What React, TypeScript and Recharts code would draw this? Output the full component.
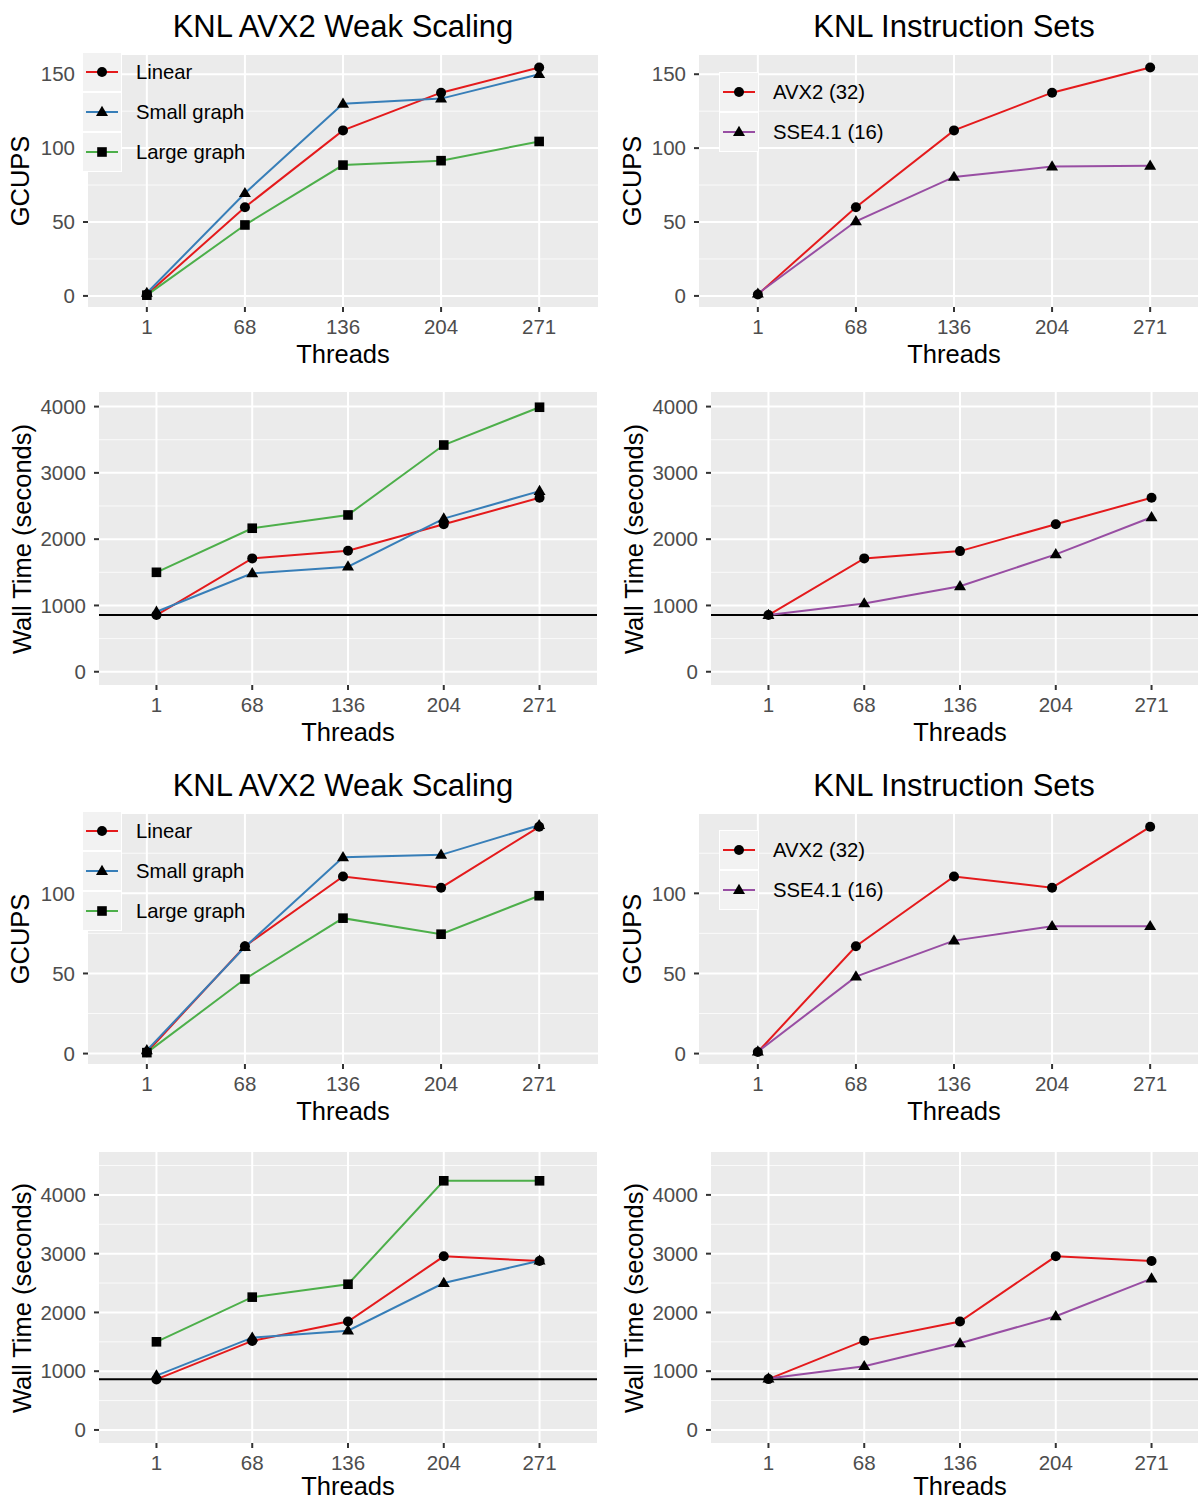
import React from "react";
import { LineChart, Line, XAxis, YAxis, CartesianGrid, ReferenceLine } from "recharts";

const FONT = "'Liberation Sans', Arial, Helvetica, sans-serif";
const PANEL_BG = "#EBEBEB";
const RED = "#E41A1C";
const BLUE = "#377EB8";
const GREEN = "#4DAF4A";
const PURPLE = "#984EA3";

const threads = ["1", "68", "136", "204", "271"];
const xIdx = [0, 1, 2, 3, 4];

// first run (top half)
const gcupsLinearA = [1, 60, 112, 137.5, 154.5];
const gcupsSmallA = [2, 69.5, 130, 133.5, 150];
const gcupsLargeA = [0.5, 48, 88.5, 91.5, 104.5];
const gcupsAvx2A = [1, 60, 112, 137.5, 154.5];
const gcupsSseA = [1.5, 50.5, 80.5, 87.5, 88];
const wallLinearA = [855, 1710, 1825, 2225, 2625];
const wallSmallA = [905, 1485, 1585, 2310, 2725];
const wallLargeA = [1500, 2165, 2365, 3420, 3990];
const wallAvx2A = [855, 1710, 1820, 2225, 2625];
const wallSseA = [855, 1030, 1290, 1770, 2330];
const baselineA = 855;

// second run (bottom half)
const gcupsLinearB = [0.8, 67, 110.5, 103.5, 141.5];
const gcupsSmallB = [2, 66.5, 122.5, 124, 142.5];
const gcupsLargeB = [0.6, 46.5, 84.5, 74.5, 98.5];
const gcupsAvx2B = [1, 67, 110.5, 103.5, 141.5];
const gcupsSseB = [1.2, 48, 70.5, 79.5, 79.5];
const wallLinearB = [860, 1515, 1845, 2955, 2875];
const wallSmallB = [925, 1570, 1690, 2500, 2880];
const wallLargeB = [1500, 2260, 2480, 4240, 4240];
const wallAvx2B = [865, 1520, 1845, 2955, 2875];
const wallSseB = [875, 1085, 1475, 1935, 2575];
const baselineB = 862;

const gcupsTicksA = [0, 50, 100, 150];
const gcupsMinorA = [25, 75, 125];
const gcupsTicksB = [0, 50, 100];
const gcupsMinorB = [25, 75, 125];
const wallTicks = [0, 1000, 2000, 3000, 4000];
const wallMinorA = [500, 1500, 2500, 3500];
const wallMinorB = [500, 1500, 2500, 3500, 4500];

type Shape = "circle" | "triangle" | "square";
type Series = { name: string; color: string; shape: Shape; values: number[] };

function Marker({ shape, cx, cy }: { shape: Shape; cx: number; cy: number }) {
  if (shape === "circle") return <circle cx={cx} cy={cy} r={5} fill="#000" />;
  if (shape === "square") return <rect x={cx - 4.8} y={cy - 4.8} width={9.6} height={9.6} fill="#000" />;
  return <polygon points={`${cx},${cy - 6.3} ${cx - 6},${cy + 3.9} ${cx + 6},${cy + 3.9}`} fill="#000" />;
}

type Rect = { x: number; y: number; w: number; h: number };

function Legend({ left, top, series }: { left: number; top: number; series: Series[] }) {
  return (
    <div style={{ position: "absolute", left, top }}>
      {series.map((s) => (
        <div key={s.name} style={{ display: "flex", alignItems: "center", height: 40 }}>
          <div
            style={{
              width: 40,
              height: 40,
              boxSizing: "border-box",
              border: "1px solid #fff",
              background: "#F2F2F2",
            }}
          >
            <svg width={38} height={38}>
              <line x1={3} y1={19} x2={35} y2={19} stroke={s.color} strokeWidth={2} />
              <Marker shape={s.shape} cx={19} cy={19} />
            </svg>
          </div>
          <div style={{ marginLeft: 14, fontSize: 20.3, lineHeight: 1, color: "#000", whiteSpace: "nowrap" }}>
            {s.name}
          </div>
        </div>
      ))}
    </div>
  );
}

function Panel({
  rect,
  series,
  domain,
  ticks,
  minor,
  baseline,
  yLabel,
  yLabelOffset,
  xLabelShift = 0,
  title,
  legend,
}: {
  rect: Rect;
  series: Series[];
  domain: [number, number];
  ticks: number[];
  minor: number[];
  baseline?: number;
  yLabel: string;
  yLabelOffset: number;
  xLabelShift?: number;
  title?: string;
  legend?: { left: number; top: number };
}) {
  const data = threads.map((t, i) => {
    const row: any = { i };
    series.forEach((s, k) => (row["s" + k] = s.values[i]));
    return row;
  });
  const YW = 80;
  const MT = 6;
  const MR = 6;
  const XH = 40;
  const cx = rect.x + rect.w / 2;
  const tickStyle = { fill: "#4D4D4D", fontSize: 20.5 };
  return (
    <>
      {title && (
        <div
          style={{
            position: "absolute",
            left: cx,
            top: rect.y - 44.5,
            transform: "translateX(-50%)",
            fontSize: 31,
            lineHeight: 1,
            whiteSpace: "nowrap",
          }}
        >
          {title}
        </div>
      )}
      <div style={{ position: "absolute", left: rect.x - YW, top: rect.y - MT }}>
        <LineChart
          width={YW + rect.w + MR}
          height={MT + rect.h + XH}
          data={data}
          margin={{ top: MT, right: MR, left: 0, bottom: 0 }}
          style={{ fontFamily: FONT }}
        >
          <CartesianGrid fill={PANEL_BG} stroke="#FAFAFA" strokeWidth={1} horizontalValues={minor} vertical={false} />
          <CartesianGrid stroke="#FFFFFF" strokeWidth={2} horizontalValues={ticks} verticalValues={xIdx} />
          <XAxis
            type="number"
            dataKey="i"
            domain={[-0.6, 4.6]}
            ticks={xIdx}
            interval={0}
            allowDataOverflow
            tickFormatter={(v: number) => threads[v]}
            axisLine={false}
            tickSize={5}
            tickMargin={7}
            tickLine={{ stroke: "#333333", strokeWidth: 2 }}
            tick={tickStyle}
            height={XH}
          />
          <YAxis
            type="number"
            domain={domain}
            ticks={ticks}
            interval={0}
            allowDataOverflow
            axisLine={false}
            tickSize={5}
            tickMargin={8}
            tickLine={{ stroke: "#333333", strokeWidth: 2 }}
            tick={tickStyle}
            width={YW}
          />
          {baseline !== undefined && <ReferenceLine y={baseline} stroke="#000" strokeWidth={2} />}
          {series.map((s, k) => (
            <Line
              key={"l" + k}
              dataKey={"s" + k}
              type="linear"
              stroke={s.color}
              strokeWidth={2}
              dot={false}
              activeDot={false}
              isAnimationActive={false}
            />
          ))}
          {series.map((s, k) => (
            <Line
              key={"p" + k}
              dataKey={"s" + k}
              type="linear"
              stroke="none"
              activeDot={false}
              isAnimationActive={false}
              dot={(p: any) => <Marker key={`m${k}-${p.index}`} shape={s.shape} cx={p.cx} cy={p.cy} />}
            />
          ))}
        </LineChart>
      </div>
      <div
        style={{
          position: "absolute",
          left: rect.x - yLabelOffset,
          top: rect.y + rect.h / 2,
          transform: "translate(-50%, -50%) rotate(-90deg)",
          fontSize: 25.5,
          lineHeight: 1,
          whiteSpace: "nowrap",
        }}
      >
        {yLabel}
      </div>
      <div
        style={{
          position: "absolute",
          left: cx,
          top: rect.y + rect.h + 37 + xLabelShift,
          transform: "translateX(-50%)",
          fontSize: 25.5,
          lineHeight: 0.8,
          whiteSpace: "nowrap",
        }}
      >
        Threads
      </div>
      {legend && <Legend left={legend.left} top={legend.top} series={series} />}
    </>
  );
}

export default function App() {
  const weakA: Series[] = [
    { name: "Linear", color: RED, shape: "circle", values: gcupsLinearA },
    { name: "Small graph", color: BLUE, shape: "triangle", values: gcupsSmallA },
    { name: "Large graph", color: GREEN, shape: "square", values: gcupsLargeA },
  ];
  const isaA: Series[] = [
    { name: "AVX2 (32)", color: RED, shape: "circle", values: gcupsAvx2A },
    { name: "SSE4.1 (16)", color: PURPLE, shape: "triangle", values: gcupsSseA },
  ];
  const weakWallA: Series[] = [
    { name: "Linear", color: RED, shape: "circle", values: wallLinearA },
    { name: "Small graph", color: BLUE, shape: "triangle", values: wallSmallA },
    { name: "Large graph", color: GREEN, shape: "square", values: wallLargeA },
  ];
  const isaWallA: Series[] = [
    { name: "AVX2 (32)", color: RED, shape: "circle", values: wallAvx2A },
    { name: "SSE4.1 (16)", color: PURPLE, shape: "triangle", values: wallSseA },
  ];
  const weakB: Series[] = [
    { name: "Linear", color: RED, shape: "circle", values: gcupsLinearB },
    { name: "Small graph", color: BLUE, shape: "triangle", values: gcupsSmallB },
    { name: "Large graph", color: GREEN, shape: "square", values: gcupsLargeB },
  ];
  const isaB: Series[] = [
    { name: "AVX2 (32)", color: RED, shape: "circle", values: gcupsAvx2B },
    { name: "SSE4.1 (16)", color: PURPLE, shape: "triangle", values: gcupsSseB },
  ];
  const weakWallB: Series[] = [
    { name: "Linear", color: RED, shape: "circle", values: wallLinearB },
    { name: "Small graph", color: BLUE, shape: "triangle", values: wallSmallB },
    { name: "Large graph", color: GREEN, shape: "square", values: wallLargeB },
  ];
  const isaWallB: Series[] = [
    { name: "AVX2 (32)", color: RED, shape: "circle", values: wallAvx2B },
    { name: "SSE4.1 (16)", color: PURPLE, shape: "triangle", values: wallSseB },
  ];

  return (
    <div
      style={{
        position: "absolute",
        left: 0,
        top: 0,
        width: 1198,
        height: 1502,
        overflow: "hidden",
        background: "#fff",
        fontFamily: FONT,
        color: "#000",
      }}
    >
      <Panel
        rect={{ x: 88, y: 55, w: 510, h: 252 }}
        series={weakA}
        domain={[-7.5, 163]}
        ticks={gcupsTicksA}
        minor={gcupsMinorA}
        yLabel="GCUPS"
        yLabelOffset={67}
        title="KNL AVX2 Weak Scaling"
        legend={{ left: 82, top: 52 }}
      />
      <Panel
        rect={{ x: 699, y: 55, w: 510, h: 252 }}
        series={isaA}
        domain={[-7.5, 163]}
        ticks={gcupsTicksA}
        minor={gcupsMinorA}
        yLabel="GCUPS"
        yLabelOffset={66}
        title="KNL Instruction Sets"
        legend={{ left: 719, top: 72 }}
      />
      <Panel
        rect={{ x: 99, y: 392, w: 498, h: 293 }}
        series={weakWallA}
        domain={[-200, 4220]}
        ticks={wallTicks}
        minor={wallMinorA}
        baseline={baselineA}
        yLabel="Wall Time (seconds)"
        yLabelOffset={76}
      />
      <Panel
        rect={{ x: 711, y: 392, w: 498, h: 293 }}
        series={isaWallA}
        domain={[-200, 4220]}
        ticks={wallTicks}
        minor={wallMinorA}
        baseline={baselineA}
        yLabel="Wall Time (seconds)"
        yLabelOffset={76}
      />
      <Panel
        rect={{ x: 88, y: 814, w: 510, h: 250 }}
        series={weakB}
        domain={[-6.5, 149.5]}
        ticks={gcupsTicksB}
        minor={gcupsMinorB}
        yLabel="GCUPS"
        yLabelOffset={67}
        title="KNL AVX2 Weak Scaling"
        legend={{ left: 82, top: 811 }}
      />
      <Panel
        rect={{ x: 699, y: 814, w: 510, h: 250 }}
        series={isaB}
        domain={[-6.5, 149.5]}
        ticks={gcupsTicksB}
        minor={gcupsMinorB}
        yLabel="GCUPS"
        yLabelOffset={66}
        title="KNL Instruction Sets"
        legend={{ left: 719, top: 830 }}
      />
      <Panel
        rect={{ x: 99, y: 1152, w: 498, h: 291 }}
        series={weakWallB}
        domain={[-222, 4730]}
        ticks={wallTicks}
        minor={wallMinorB}
        baseline={baselineB}
        yLabel="Wall Time (seconds)"
        yLabelOffset={76}
        xLabelShift={-4}
      />
      <Panel
        rect={{ x: 711, y: 1152, w: 498, h: 291 }}
        series={isaWallB}
        domain={[-222, 4730]}
        ticks={wallTicks}
        minor={wallMinorB}
        baseline={baselineB}
        yLabel="Wall Time (seconds)"
        yLabelOffset={76}
        xLabelShift={-4}
      />
    </div>
  );
}
